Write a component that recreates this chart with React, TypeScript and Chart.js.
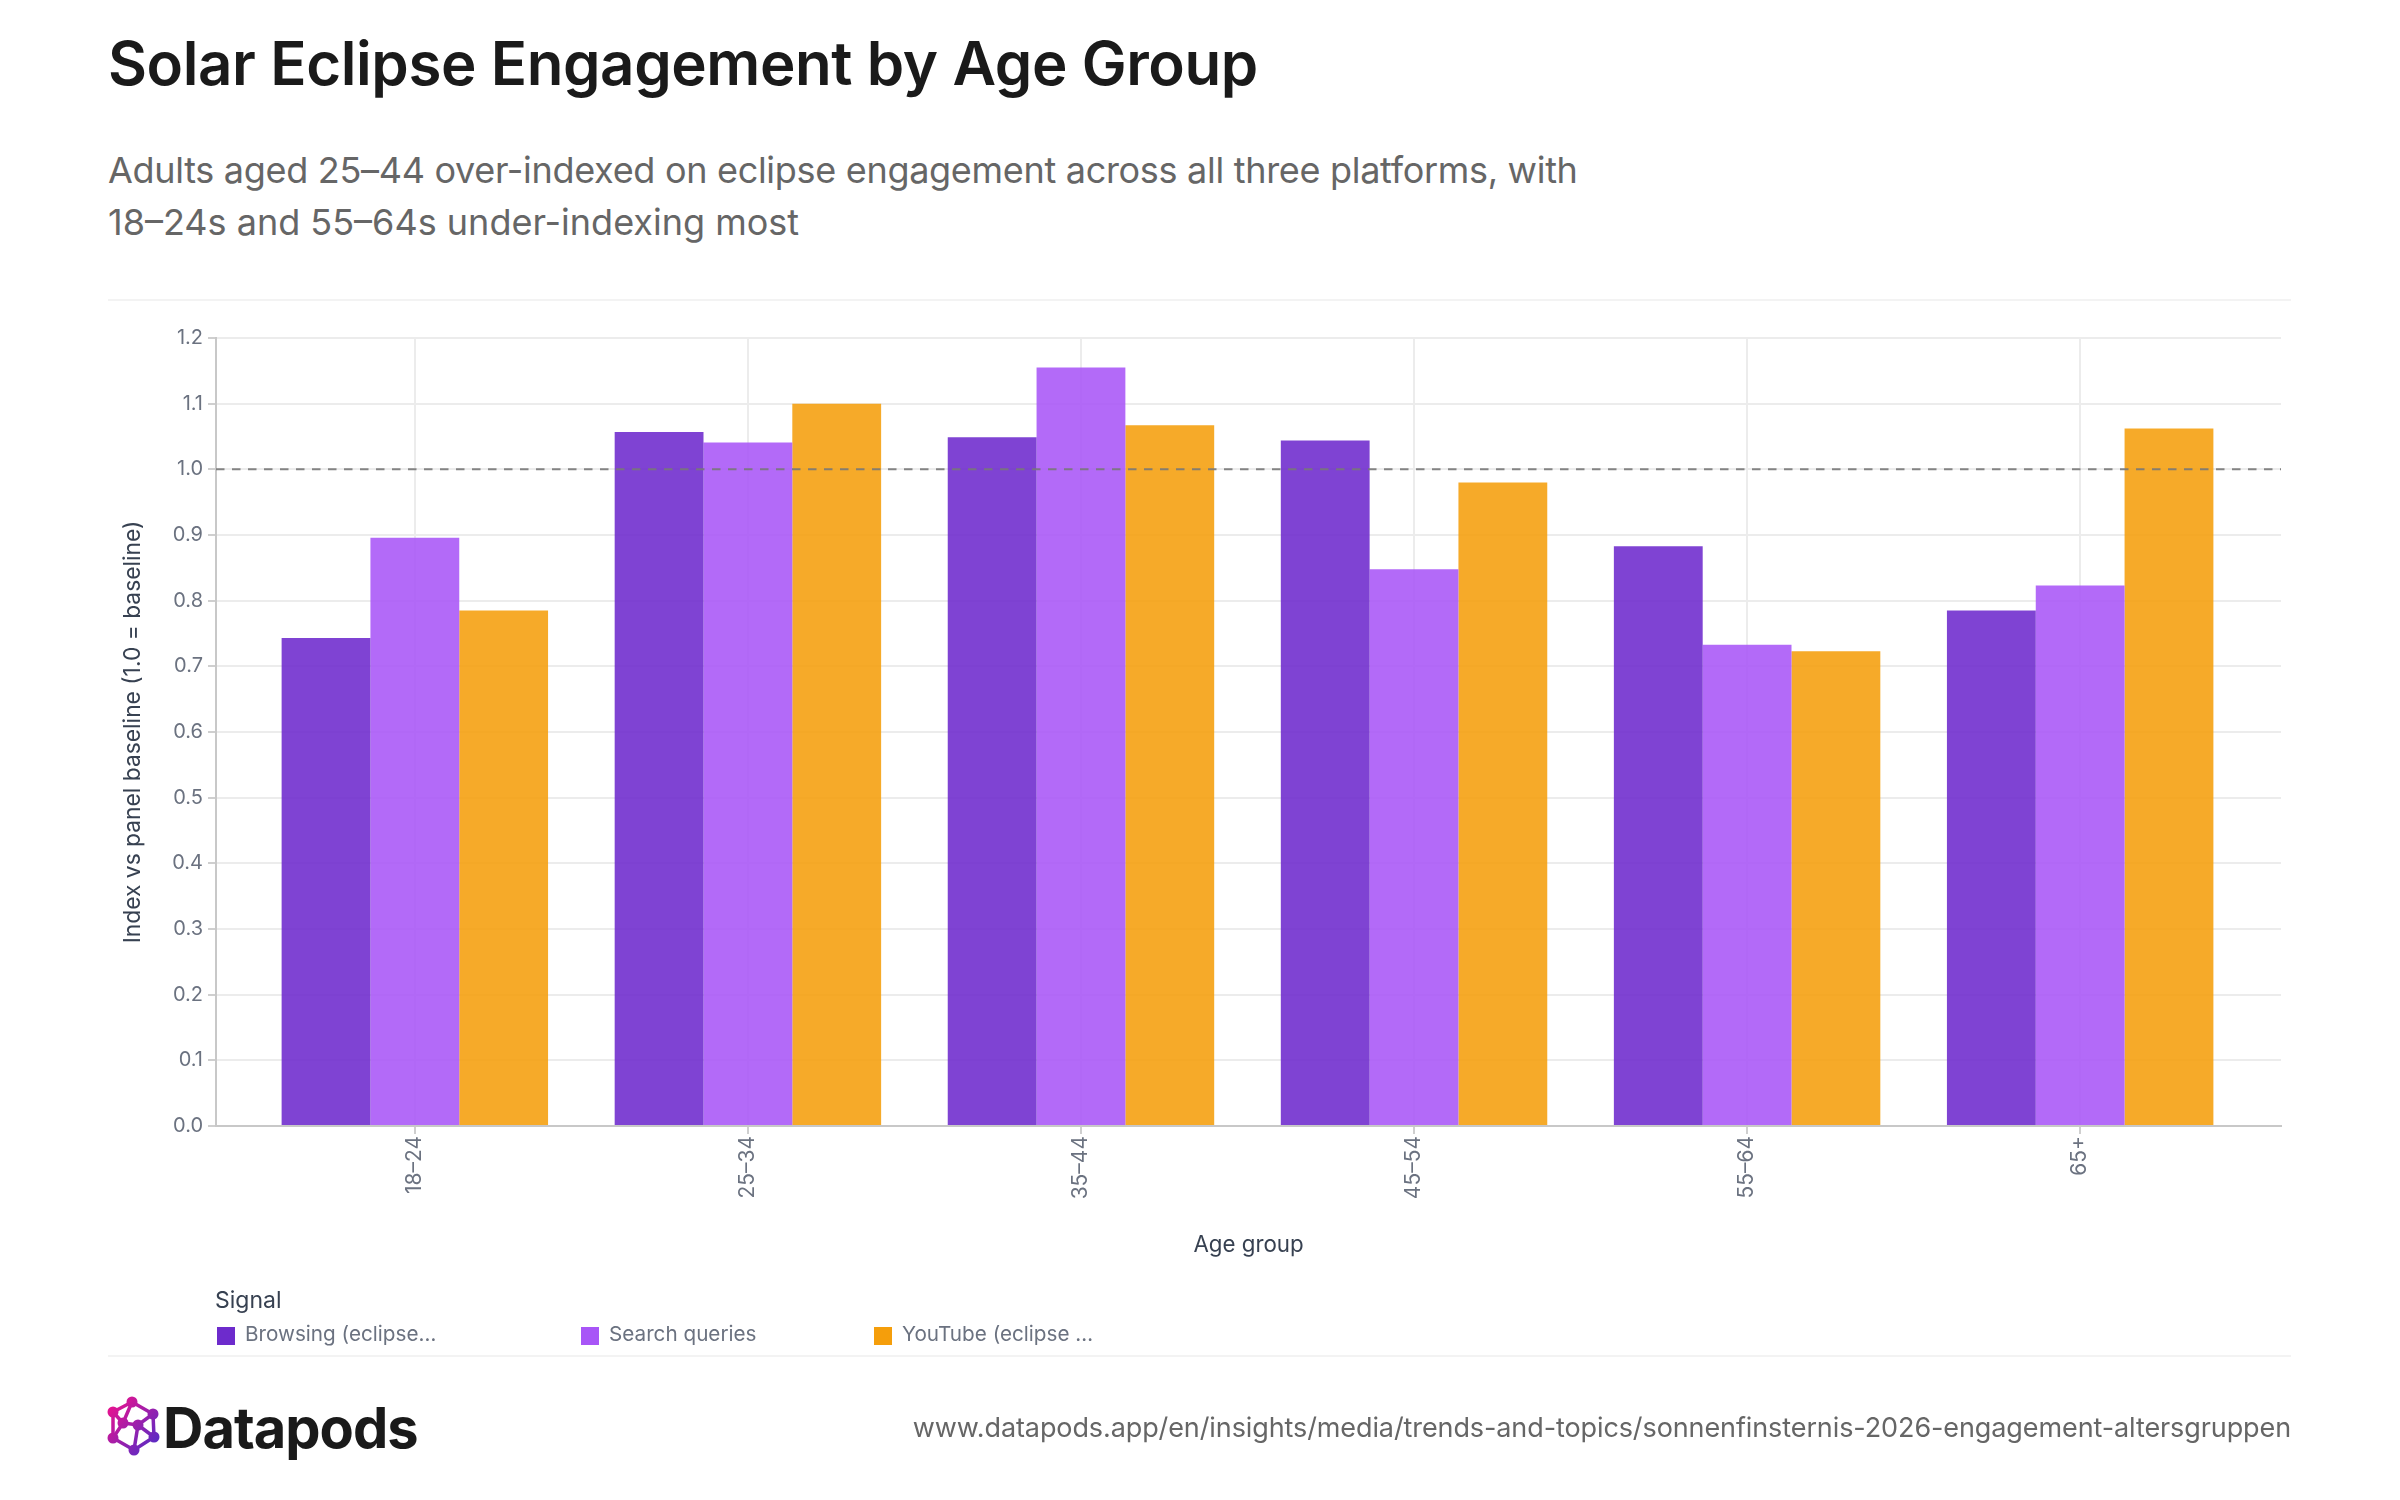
import React, { useEffect, useRef } from "react";
import { Chart, registerables, CategoryScale } from "chart.js";

const ageGroups = ["18–24", "25–34", "35–44", "45–54", "55–64", "65+"];
const browsing = [0.743, 1.057, 1.049, 1.044, 0.883, 0.785];
const search = [0.896, 1.041, 1.155, 0.848, 0.733, 0.823];
const youtube = [0.785, 1.1, 1.067, 0.98, 0.723, 1.062];
const seriesNames = ["Browsing (eclipse…", "Search queries", "YouTube (eclipse …"];
const seriesColors = ["#6d2bcc", "#a855f7", "#f59e0b"];
const barColors = ["rgba(113,47,206,0.9)", "rgba(168,85,247,0.88)", "rgba(245,158,11,0.88)"];
const legendX = [215, 579, 872];
const baseline = 1.0;

const FONT = "Inter, 'Noto Sans', sans-serif";

class PaddedCategoryScale extends CategoryScale {
  static id = "paddedCategory";
  static defaults = CategoryScale.defaults;
  buildTicks() {
    const ticks = super.buildTicks();
    (this as any)._startValue -= 0.097;
    (this as any)._valueRange += 0.2;
    return ticks;
  }
}

Chart.register(...registerables, PaddedCategoryScale);

const baselinePlugin = {
  id: "baselineRule",
  afterDatasetsDraw(chart: any) {
    const { ctx, chartArea, scales } = chart;
    const y = scales.y.getPixelForValue(baseline);
    ctx.save();
    ctx.strokeStyle = "rgba(120,120,120,0.9)";
    ctx.lineWidth = 2;
    ctx.setLineDash([8.5, 7.5]);
    ctx.beginPath();
    ctx.moveTo(chartArea.left, y);
    ctx.lineTo(chartArea.right, y);
    ctx.stroke();
    ctx.restore();
  },
};

const abs = (s: React.CSSProperties): React.CSSProperties => ({ position: "absolute", whiteSpace: "nowrap", ...s });

export default function App() {
  const ref = useRef<HTMLCanvasElement>(null);
  useEffect(() => {
    const chart = new Chart(ref.current!, {
      type: "bar",
      plugins: [baselinePlugin],
      data: {
        labels: ageGroups,
        datasets: [
          { label: "Browsing (eclipse…)", data: browsing, backgroundColor: barColors[0] },
          { label: "Search queries", data: search, backgroundColor: barColors[1] },
          { label: "YouTube (eclipse …)", data: youtube, backgroundColor: barColors[2] },
        ],
      },
      options: {
        animation: false,
        responsive: false,
        devicePixelRatio: 1,
        layout: { padding: { left: 108, top: 338, right: 119, bottom: 241 } },
        plugins: { legend: { display: false }, tooltip: { enabled: false } },
        datasets: { bar: { categoryPercentage: 0.8, barPercentage: 1 } },
        scales: {
          x: {
            type: "paddedCategory" as any,
            offset: true,
            grid: { offset: false, color: "#ececec", lineWidth: 2, tickColor: "#cfcfcf", tickLength: 8 },
            border: { color: "#c8c8c8", width: 2 },
            ticks: { minRotation: 90, maxRotation: 90, padding: 2, color: "#6b7280", font: { family: FONT, size: 21 } },
            title: { display: true, text: "Age group", color: "#374151", font: { family: FONT, size: 22.3 }, padding: { top: 18, bottom: 0 } },
            afterFit: (s: any) => { s.height = 133; },
          },
          y: {
            min: 0,
            max: 1.2,
            grid: { color: "#ececec", lineWidth: 2, tickColor: "#cfcfcf", tickLength: 8 },
            border: { color: "#c8c8c8", width: 2 },
            ticks: { stepSize: 0.1, padding: 5, color: "#6b7280", font: { family: FONT, size: 20 }, callback: (v: any) => Number(v).toFixed(1) },
            title: { display: true, text: "Index vs panel baseline (1.0 = baseline)", color: "#374151", font: { family: FONT, size: 22.8 }, padding: { top: 11, bottom: 0 } },
            afterFit: (s: any) => { s.width = 108; },
          },
        },
      },
    } as any);
    return () => chart.destroy();
  }, []);

  return (
    <div style={{ position: "absolute", left: 0, top: 0, width: 2400, height: 1500, background: "#fff", overflow: "hidden", fontFamily: FONT }}>
      <div style={abs({ left: 108, top: 23, fontSize: 60, fontWeight: 600, color: "#1a1a1a", lineHeight: "80px", letterSpacing: -0.4 })}>Solar Eclipse Engagement by Age Group</div>
      <div style={abs({ left: 108, top: 144, fontSize: 36, fontWeight: 400, color: "#666666", lineHeight: "52px", letterSpacing: -0.3 })}>
        Adults aged 25–44 over-indexed on eclipse engagement across all three platforms, with
      </div>
      <div style={abs({ left: 108, top: 196, fontSize: 36, fontWeight: 400, color: "#666666", lineHeight: "52px" })}>
        18–24s and 55–64s under-indexing most
      </div>
      <div style={abs({ left: 108, top: 299, width: 2183, height: 2, background: "#f3f3f3" })} />
      <canvas ref={ref} width={2400} height={1500} style={{ position: "absolute", left: 0, top: 0, width: 2400, height: 1500 }} />
      <div style={abs({ left: 215, top: 1286, fontSize: 23, color: "#374151", lineHeight: "28px" })}>Signal</div>
      {seriesNames.map((n, i) => (
        <React.Fragment key={n}>
          <div style={abs({ left: legendX[i] + 2, top: 1327, width: 18, height: 18, background: seriesColors[i] })} />
          <div style={abs({ left: legendX[i] + 30, top: 1320, fontSize: 20.7, color: "#6b7280", lineHeight: "28px" })}>{n}</div>
        </React.Fragment>
      ))}
      <div style={abs({ left: 108, top: 1355, width: 2183, height: 2, background: "#f3f3f3" })} />
      <svg style={{ position: "absolute", left: 100, top: 1390 }} width={70} height={72} viewBox="100 1390 70 72">
        <defs>
          <linearGradient id="lg" gradientUnits="userSpaceOnUse" x1="110" y1="1405" x2="155" y2="1445">
            <stop offset="0" stopColor="#e8128f" />
            <stop offset="1" stopColor="#5b2bc4" />
          </linearGradient>
        </defs>
        <g stroke="url(#lg)" strokeWidth="3.5" fill="none">
          <path d="M132 1402 L113 1412 L113 1438 L134 1450 L154 1437 L153 1414 Z" />
          <path d="M132 1402 L123 1423 L113 1412 M123 1423 L138 1425 L153 1414 M123 1423 L113 1438 M138 1425 L134 1450 M138 1425 L154 1437" />
        </g>
        <g fill="url(#lg)">
          {[[132,1402],[113,1412],[153,1414],[123,1423],[138,1425],[113,1438],[154,1437],[134,1450]].map(([x,y]) => <circle key={x+"-"+y} cx={x} cy={y} r={5.5} />)}
        </g>
      </svg>
      <div style={abs({ left: 163, top: 1392, fontSize: 56, fontWeight: 700, color: "#1a1a1a", lineHeight: "72px", letterSpacing: -1 })}>Datapods</div>
      <div style={abs({ right: 109, top: 1410, fontSize: 27, color: "#666666", lineHeight: "36px", letterSpacing: -0.1 })}>www.datapods.app/en/insights/media/trends-and-topics/sonnenfinsternis-2026-engagement-altersgruppen</div>
    </div>
  );
}
